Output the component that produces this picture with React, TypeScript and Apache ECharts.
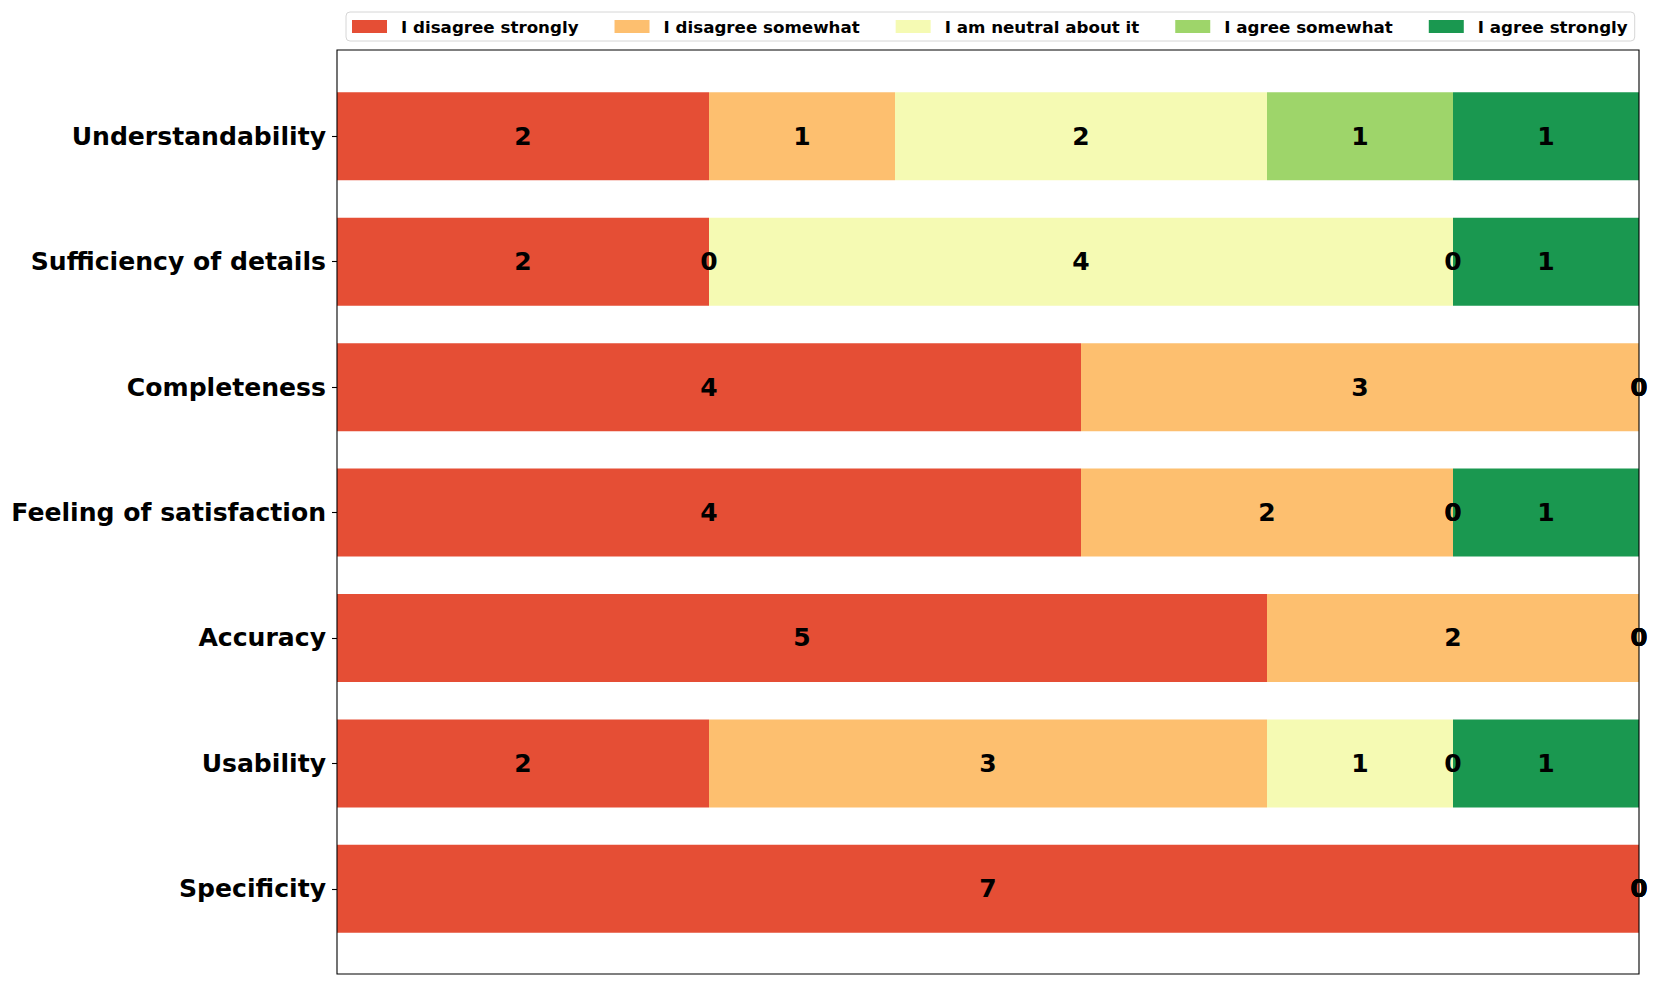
import React, { useEffect, useRef } from "react";
import * as echarts from "echarts";

const categories = [
  "Understandability",
  "Sufficiency of details",
  "Completeness",
  "Feeling of satisfaction",
  "Accuracy",
  "Usability",
  "Specificity",
];

const seriesNames = [
  "I disagree strongly",
  "I disagree somewhat",
  "I am neutral about it",
  "I agree somewhat",
  "I agree strongly",
];

const disagreeStrongly = [2, 2, 4, 4, 5, 2, 7];
const disagreeSomewhat = [1, 0, 3, 2, 2, 3, 0];
const neutral = [2, 4, 0, 0, 0, 1, 0];
const agreeSomewhat = [1, 0, 0, 0, 0, 0, 0];
const agreeStrongly = [1, 1, 0, 1, 0, 1, 0];

const seriesValues = [disagreeStrongly, disagreeSomewhat, neutral, agreeSomewhat, agreeStrongly];

const colors = ["#e54e35", "#fdbf6f", "#f5fab3", "#9ed56a", "#1a9850"];

const FONT = "DejaVu Sans";

export default function App() {
  const ref = useRef<HTMLDivElement>(null);

  useEffect(() => {
    if (!ref.current) return;
    const chart = echarts.init(ref.current, undefined, { renderer: "svg" });
    const option: any = {
      animation: false,
      backgroundColor: "#ffffff",
      textStyle: { fontFamily: FONT },
      legend: {
        left: 346,
        top: 12,
        itemWidth: 35,
        itemHeight: 13,
        itemGap: 36,
        padding: [6, 7, 6, 6],
        borderColor: "#d6d6d6",
        borderWidth: 1,
        borderRadius: 4,
        icon: "rect",
        textStyle: {
          fontFamily: FONT,
          fontSize: 16.7,
          fontWeight: "bold",
          color: "#000000",
          padding: [0, 0, 0, 9],
        },
        data: seriesNames,
      },
      grid: {
        left: 337,
        right: 21,
        top: 73.6,
        bottom: 35.5,
        containLabel: false,
      },
      xAxis: {
        type: "value",
        min: 0,
        max: 7,
        show: false,
      },
      yAxis: {
        type: "category",
        data: categories,
        inverse: true,
        axisLine: { show: false },
        axisTick: {
          show: true,
          alignWithLabel: true,
          length: 5,
          lineStyle: { color: "#000000", width: 1.1 },
        },
        axisLabel: {
          fontFamily: FONT,
          fontSize: 25.1,
          fontWeight: "bold",
          color: "#000000",
          margin: 11,
        },
        splitLine: { show: false },
      },
      graphic: [
        {
          type: "rect",
          shape: { x: 337, y: 50, width: 1302, height: 924 },
          style: { fill: "none", stroke: "#000000", lineWidth: 1.1 },
          z: 100,
          silent: true,
        },
      ],
      series: seriesNames.map((name, i) => ({
        name,
        type: "bar",
        stack: "total",
        barWidth: 88,
        data: seriesValues[i],
        itemStyle: { color: colors[i] },
        label: {
          show: true,
          position: "inside",
          fontFamily: FONT,
          fontSize: 25,
          fontWeight: "bold",
          color: "#000000",
          textBorderWidth: 0,
          formatter: (p: any) => String(p.value),
        },
      })),
    };
    chart.setOption(option);
    return () => chart.dispose();
  }, []);

  return (
    <div
      ref={ref}
      style={{ position: "fixed", left: 0, top: 0, width: 1660, height: 987 }}
    />
  );
}
